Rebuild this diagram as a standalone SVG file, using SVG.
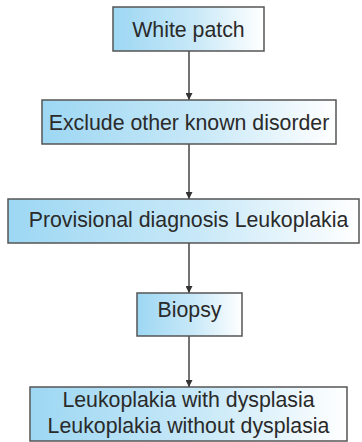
<svg xmlns="http://www.w3.org/2000/svg" width="362" height="442" viewBox="0 0 362 442">
<defs>
<linearGradient id="g" x1="0" y1="0" x2="1" y2="0">
<stop offset="0" stop-color="#9dd7f3"/>
<stop offset="0.55" stop-color="#c9e9f8"/>
<stop offset="1" stop-color="#ffffff"/>
</linearGradient>
<marker id="ah" markerWidth="7" markerHeight="7" refX="7" refY="3.5" orient="auto" markerUnits="userSpaceOnUse">
<path d="M0,0 L7,3.5 L0,7 Z" fill="#333"/>
</marker>
<style>
.box{fill:url(#g);stroke:#555;stroke-width:1.5}
.t{font-family:"Liberation Sans",Arial,sans-serif;font-size:21.3px;fill:#2a2a2a;text-anchor:middle}
.c{stroke:#444;stroke-width:1.5;fill:none;marker-end:url(#ah)}
</style>
</defs>
<rect width="362" height="442" fill="#fff"/>
<g id="connectors">
<line class="c" x1="189" y1="51" x2="189" y2="100"/>
<line class="c" x1="189" y1="144" x2="189" y2="199"/>
<line class="c" x1="189" y1="243" x2="189" y2="293"/>
<line class="c" x1="189" y1="336" x2="189" y2="387"/>
</g>
<g id="n1"><rect class="box" x="113" y="7" width="151" height="44"/><text class="t" x="188.5" y="36.5">White patch</text></g>
<g id="n2"><rect class="box" x="42" y="100" width="294" height="44"/><text class="t" x="189" y="130">Exclude other known disorder</text></g>
<g id="n3"><rect class="box" x="8" y="199" width="351" height="44"/><text class="t" x="188.5" y="227">Provisional diagnosis Leukoplakia</text></g>
<g id="n4"><rect class="box" x="137" y="293" width="105" height="43"/><text class="t" x="189.5" y="317">Biopsy</text></g>
<g id="n5"><rect class="box" x="30" y="387" width="317" height="54"/><text class="t" x="188.5" y="407">Leukoplakia with dysplasia</text><text class="t" x="188.5" y="433">Leukoplakia without dysplasia</text></g>
</svg>
